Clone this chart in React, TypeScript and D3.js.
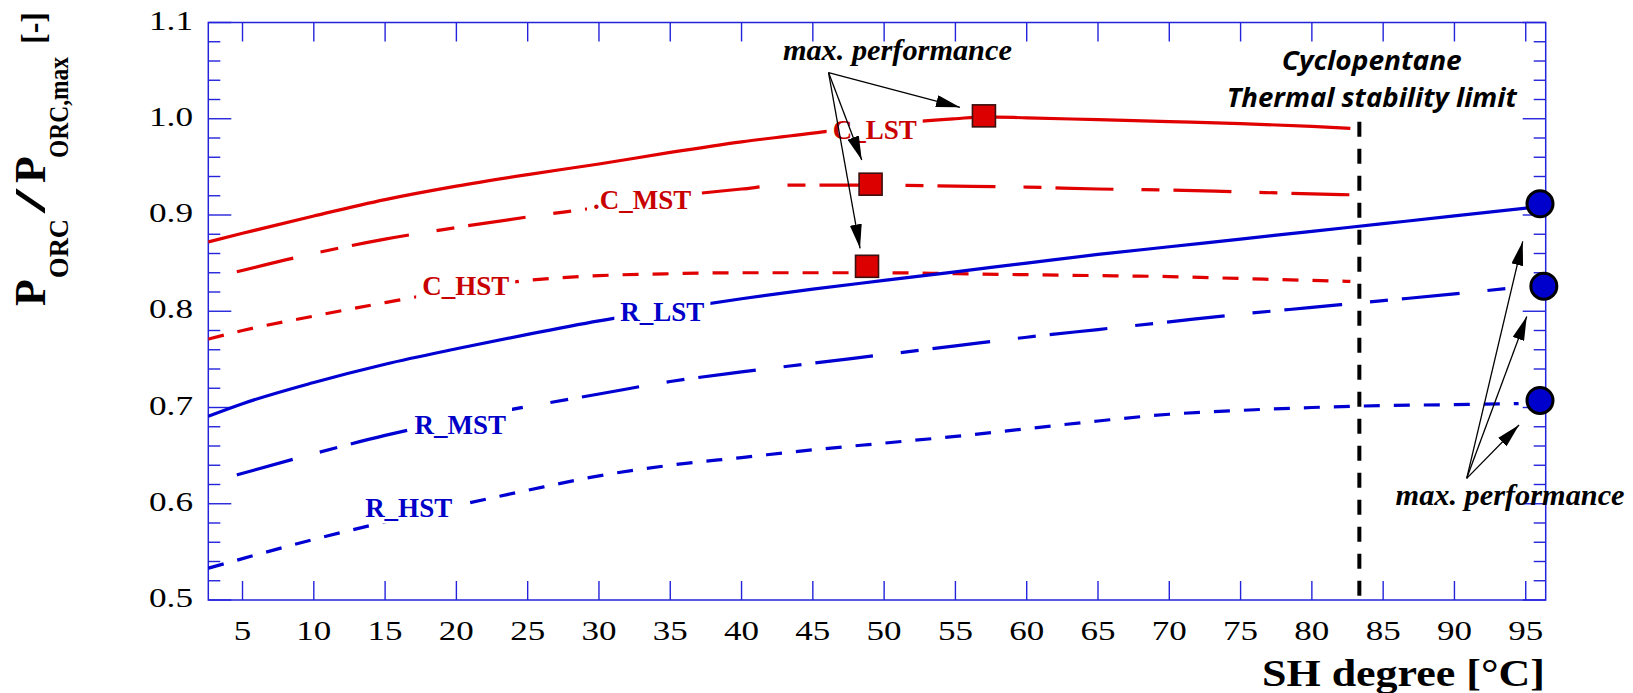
import { useEffect, useRef } from "react";
import * as d3 from "d3";

// SH degree [°C] samples and P_ORC/P_ORC,max
const cLstX = [2.6, 5, 10, 15, 20, 25, 30, 35, 40, 45, 50, 55, 57, 60, 65, 70, 75, 80, 82.7];
const cLstY = [0.872, 0.881, 0.899, 0.916, 0.93, 0.942, 0.953, 0.965, 0.976, 0.985, 0.994, 1.0, 1.002, 1.001, 0.999, 0.997, 0.995, 0.992, 0.99];

const cMstX = [4.6, 10, 15, 20, 25, 30, 35, 40, 43, 50, 55, 60, 65, 70, 75, 80, 82.7];
const cMstY = [0.841, 0.86, 0.875, 0.887, 0.898, 0.908, 0.919, 0.927, 0.931, 0.931, 0.93, 0.929, 0.927, 0.926, 0.924, 0.922, 0.921];

const cHstX = [2.6, 5, 10, 15, 20, 25, 30, 35, 40, 45, 50, 55, 60, 65, 70, 75, 80, 82.7];
const cHstY = [0.771, 0.78, 0.795, 0.809, 0.822, 0.832, 0.837, 0.839, 0.84, 0.84, 0.84, 0.839, 0.838, 0.837, 0.836, 0.834, 0.832, 0.831];

const rLstX = [2.6, 5, 10, 15, 20, 25, 30, 35, 40, 45, 50, 55, 60, 65, 70, 75, 80, 85, 90, 95.5];
const rLstY = [0.691, 0.704, 0.726, 0.745, 0.761, 0.776, 0.79, 0.802, 0.813, 0.823, 0.832, 0.841, 0.85, 0.859, 0.867, 0.875, 0.883, 0.891, 0.899, 0.908];

const rMstX = [4.6, 10, 15, 20, 25, 30, 35, 40, 45, 50, 55, 60, 65, 70, 75, 80, 85, 90, 94.5];
const rMstY = [0.63, 0.652, 0.671, 0.687, 0.701, 0.714, 0.727, 0.737, 0.746, 0.755, 0.764, 0.773, 0.781, 0.789, 0.797, 0.804, 0.811, 0.818, 0.825];

const rHstX = [2.6, 5, 10, 15, 20, 25, 30, 35, 40, 45, 50, 55, 60, 65, 70, 75, 80, 85, 90, 94.5];
const rHstY = [0.533, 0.543, 0.563, 0.581, 0.598, 0.614, 0.629, 0.64, 0.648, 0.656, 0.663, 0.67, 0.678, 0.686, 0.693, 0.697, 0.7, 0.702, 0.703, 0.704];

// max. performance points
const cycloMaxX = [57.0, 49.05, 48.8];
const cycloMaxY = [1.003, 0.932, 0.8467];
const r245MaxX = [96.0, 96.27, 96.0];
const r245MaxY = [0.9116, 0.826, 0.7073];

const curveNames = ["C_LST", "C_MST", "C_HST", "R_LST", "R_MST", "R_HST"];
const curveLabels = ["C_LST", ".C_MST", "C_HST", "R_LST", "R_MST", "R_HST"];
// label start (x) and baseline (y) in data units
const labelX = [46.39, 29.58, 17.6, 31.5, 17.06, 13.6];
const labelY = [0.9787, 0.9062, 0.8169, 0.7902, 0.6725, 0.5866];

const xTicks = [5, 10, 15, 20, 25, 30, 35, 40, 45, 50, 55, 60, 65, 70, 75, 80, 85, 90, 95];
const yTicks = [0.5, 0.6, 0.7, 0.8, 0.9, 1.0, 1.1];

const stabilityLimit = 83.33;

const W = 1633;
const H = 693;

export default function App() {
  const svgRef = useRef<SVGSVGElement>(null);

  useEffect(() => {
    const svg = d3.select(svgRef.current);
    svg.selectAll("*").remove();

    const x = d3.scaleLinear().domain([2.6, 96.4]).range([208.3, 1545.7]);
    const y = d3.scaleLinear().domain([0.5, 1.1]).range([600, 22.5]);
    const blue = "#2323dc";
    const serif = "'Liberation Serif', 'Times New Roman', serif";

    const defs = svg.append("defs");
    defs
      .append("marker")
      .attr("id", "head")
      .attr("viewBox", "0 0 24 12")
      .attr("refX", 24)
      .attr("refY", 6)
      .attr("markerWidth", 24)
      .attr("markerHeight", 12)
      .attr("markerUnits", "userSpaceOnUse")
      .attr("orient", "auto")
      .append("path")
      .attr("d", "M0,0L24,6L0,12Z")
      .attr("fill", "#000");

    // mask that breaks the curves where their labels sit
    const mask = defs
      .append("mask")
      .attr("id", "labelgaps")
      .attr("maskUnits", "userSpaceOnUse")
      .attr("x", 0)
      .attr("y", 0)
      .attr("width", W)
      .attr("height", H);
    mask.append("rect").attr("width", W).attr("height", H).attr("fill", "#fff");

    // frame
    const [x0, x1] = x.range();
    const [yb, yt] = y.range();
    svg
      .append("rect")
      .attr("x", x0)
      .attr("y", yt)
      .attr("width", x1 - x0)
      .attr("height", yb - yt)
      .attr("fill", "none")
      .attr("stroke", blue)
      .attr("stroke-width", 1.5);

    // x ticks, top and bottom, pointing inward
    const ticks = svg.append("g").attr("stroke", blue).attr("stroke-width", 1.4);
    xTicks.forEach((t) => {
      ticks.append("line").attr("x1", x(t)).attr("x2", x(t)).attr("y1", yb).attr("y2", yb - 19);
      ticks.append("line").attr("x1", x(t)).attr("x2", x(t)).attr("y1", yt).attr("y2", yt + 19);
    });
    // y ticks, major every 0.1 and minor every 0.02, both sides
    d3.range(0, 31).forEach((i) => {
      const v = 0.5 + i * 0.02;
      const len = i % 5 === 0 ? 23 : 12;
      ticks.append("line").attr("x1", x0).attr("x2", x0 + len).attr("y1", y(v)).attr("y2", y(v));
      ticks.append("line").attr("x1", x1).attr("x2", x1 - len).attr("y1", y(v)).attr("y2", y(v));
    });

    // tick labels
    svg
      .append("g")
      .selectAll("text")
      .data(xTicks)
      .join("text")
      .attr("x", (d) => x(d))
      .attr("y", 640)
      .attr("text-anchor", "middle")
      .attr("font-family", serif)
      .attr("font-size", 28)
      .attr("textLength", (d) => String(d).length * 14 * 1.25)
      .attr("lengthAdjust", "spacingAndGlyphs")
      .text((d) => String(d));

    svg
      .append("g")
      .selectAll("text")
      .data(yTicks)
      .join("text")
      .attr("x", 193)
      .attr("y", (d) => y(d) + 7)
      .attr("text-anchor", "end")
      .attr("font-family", serif)
      .attr("font-size", 28)
      .attr("textLength", 44)
      .attr("lengthAdjust", "spacingAndGlyphs")
      .text((d) => d.toFixed(1));

    // axis titles
    svg
      .append("text")
      .attr("x", 1262)
      .attr("y", 686)
      .attr("font-family", serif)
      .attr("font-weight", "bold")
      .attr("font-size", 37)
      .attr("textLength", 283)
      .attr("lengthAdjust", "spacingAndGlyphs")
      .text("SH degree [°C]");

    const vtext = (str: string, size: number, bx: number, sy: number, len?: number) => {
      const t = svg
        .append("text")
        .attr("transform", `translate(${bx},${sy}) rotate(-90)`)
        .attr("font-family", serif)
        .attr("font-weight", "bold")
        .attr("font-size", size)
        .text(str);
      if (len) t.attr("textLength", len).attr("lengthAdjust", "spacingAndGlyphs");
    };
    vtext("P", 44, 45, 306);
    vtext("ORC", 27, 68, 278, 59);
    vtext("/", 44, 45, 213, 24);
    vtext("P", 44, 45, 183);
    vtext("ORC,max", 27, 68, 158, 101);
    vtext("[-]", 33, 45, 44, 32);

    // curves
    const series = [
      { xs: cLstX, ys: cLstY, color: "#e00000", dash: null },
      { xs: cMstX, ys: cMstY, color: "#e00000", dash: "58,28,18,14" },
      { xs: cHstX, ys: cHstY, color: "#e00000", dash: "16,14" },
      { xs: rLstX, ys: rLstY, color: "#0000d2", dash: null },
      { xs: rMstX, ys: rMstY, color: "#0000d2", dash: "58,28,18,14" },
      { xs: rHstX, ys: rHstY, color: "#0000d2", dash: "16,14" },
    ];
    const line = d3
      .line<[number, number]>()
      .x((d) => x(d[0]))
      .y((d) => y(d[1]))
      .curve(d3.curveMonotoneX);

    const curves = svg.append("g").attr("mask", "url(#labelgaps)");
    series.forEach((s, i) => {
      const pts = s.xs.map((v, j) => [v, s.ys[j]] as [number, number]);
      curves
        .append("path")
        .datum(pts)
        .attr("class", curveNames[i])
        .attr("fill", "none")
        .attr("stroke", s.color)
        .attr("stroke-width", 3.2)
        .attr("stroke-dasharray", s.dash)
        .attr("d", line);
    });

    // curve labels
    curveLabels.forEach((lab, i) => {
      const t = svg
        .append("text")
        .attr("x", x(labelX[i]))
        .attr("y", y(labelY[i]))
        .attr("font-family", serif)
        .attr("font-weight", "bold")
        .attr("font-size", 27)
        .attr("fill", i < 3 ? "#c80000" : "#0000c8")
        .text(lab);
      const bb = (t.node() as SVGTextElement).getBBox();
      mask
        .append("rect")
        .attr("x", bb.x - 6)
        .attr("y", bb.y - 3)
        .attr("width", bb.width + 12)
        .attr("height", bb.height + 4)
        .attr("fill", "#000");
    });

    // thermal stability limit
    svg
      .append("line")
      .attr("x1", x(stabilityLimit))
      .attr("x2", x(stabilityLimit))
      .attr("y1", y(0.997))
      .attr("y2", y(0.5) + 6)
      .attr("stroke", "#000")
      .attr("stroke-width", 4)
      .attr("stroke-dasharray", "15,12");

    svg
      .append("text")
      .attr("x", x(84.2))
      .attr("y", y(1.0506))
      .attr("text-anchor", "middle")
      .attr("font-family", "'Open Sans', sans-serif")
      .attr("font-weight", "bold")
      .attr("font-style", "italic")
      .attr("font-size", 27)
      .attr("textLength", 180)
      .attr("lengthAdjust", "spacingAndGlyphs")
      .text("Cyclopentane");
    svg
      .append("text")
      .attr("x", x(84.2))
      .attr("y", y(1.0125))
      .attr("text-anchor", "middle")
      .attr("font-family", "'Open Sans', sans-serif")
      .attr("font-weight", "bold")
      .attr("font-style", "italic")
      .attr("font-size", 27)
      .attr("textLength", 290)
      .attr("lengthAdjust", "spacingAndGlyphs")
      .text("Thermal stability limit");

    // arrows to the max. performance points
    const topFrom = [46.1, 1.048];
    const topTips = [
      [55.32, 1.0119],
      [48.43, 0.9571],
      [48.31, 0.8654],
    ];
    const botFrom = [90.86, 0.6264];
    const botTips = [
      [94.79, 0.8725],
      [95.07, 0.7946],
      [94.53, 0.6818],
    ];
    const arrows = svg.append("g").attr("stroke", "#000").attr("stroke-width", 1.3);
    topTips.forEach((tp) => {
      arrows
        .append("line")
        .attr("x1", x(topFrom[0]))
        .attr("y1", y(topFrom[1]))
        .attr("x2", x(tp[0]))
        .attr("y2", y(tp[1]))
        .attr("marker-end", "url(#head)");
    });
    botTips.forEach((tp) => {
      arrows
        .append("line")
        .attr("x1", x(botFrom[0]))
        .attr("y1", y(botFrom[1]))
        .attr("x2", x(tp[0]))
        .attr("y2", y(tp[1]))
        .attr("marker-end", "url(#head)");
    });

    // markers
    svg
      .append("g")
      .selectAll("rect")
      .data(cycloMaxX.map((v, i) => [v, cycloMaxY[i]]))
      .join("rect")
      .attr("x", (d) => x(d[0]) - 11.5)
      .attr("y", (d) => y(d[1]) - 11)
      .attr("width", 23)
      .attr("height", 22)
      .attr("fill", "#dc0000")
      .attr("stroke", "#3a1010")
      .attr("stroke-width", 1.6);

    svg
      .append("g")
      .selectAll("circle")
      .data(r245MaxX.map((v, i) => [v, r245MaxY[i]]))
      .join("circle")
      .attr("cx", (d) => x(d[0]))
      .attr("cy", (d) => y(d[1]))
      .attr("r", 13)
      .attr("fill", "#0000cc")
      .attr("stroke", "#000")
      .attr("stroke-width", 3);

    // annotations
    const ann = [
      { t: 42.9, v: 1.061 },
      { t: 85.87, v: 0.5987 },
    ];
    ann.forEach((a) => {
      svg
        .append("text")
        .attr("x", x(a.t))
        .attr("y", y(a.v))
        .attr("font-family", serif)
        .attr("font-weight", "bold")
        .attr("font-style", "italic")
        .attr("font-size", 30)
        .attr("textLength", 229)
        .attr("lengthAdjust", "spacingAndGlyphs")
        .text("max. performance");
    });
  }, []);

  return (
    <svg
      ref={svgRef}
      width={W}
      height={H}
      style={{ position: "absolute", left: 0, top: 0, background: "#fff" }}
    />
  );
}
